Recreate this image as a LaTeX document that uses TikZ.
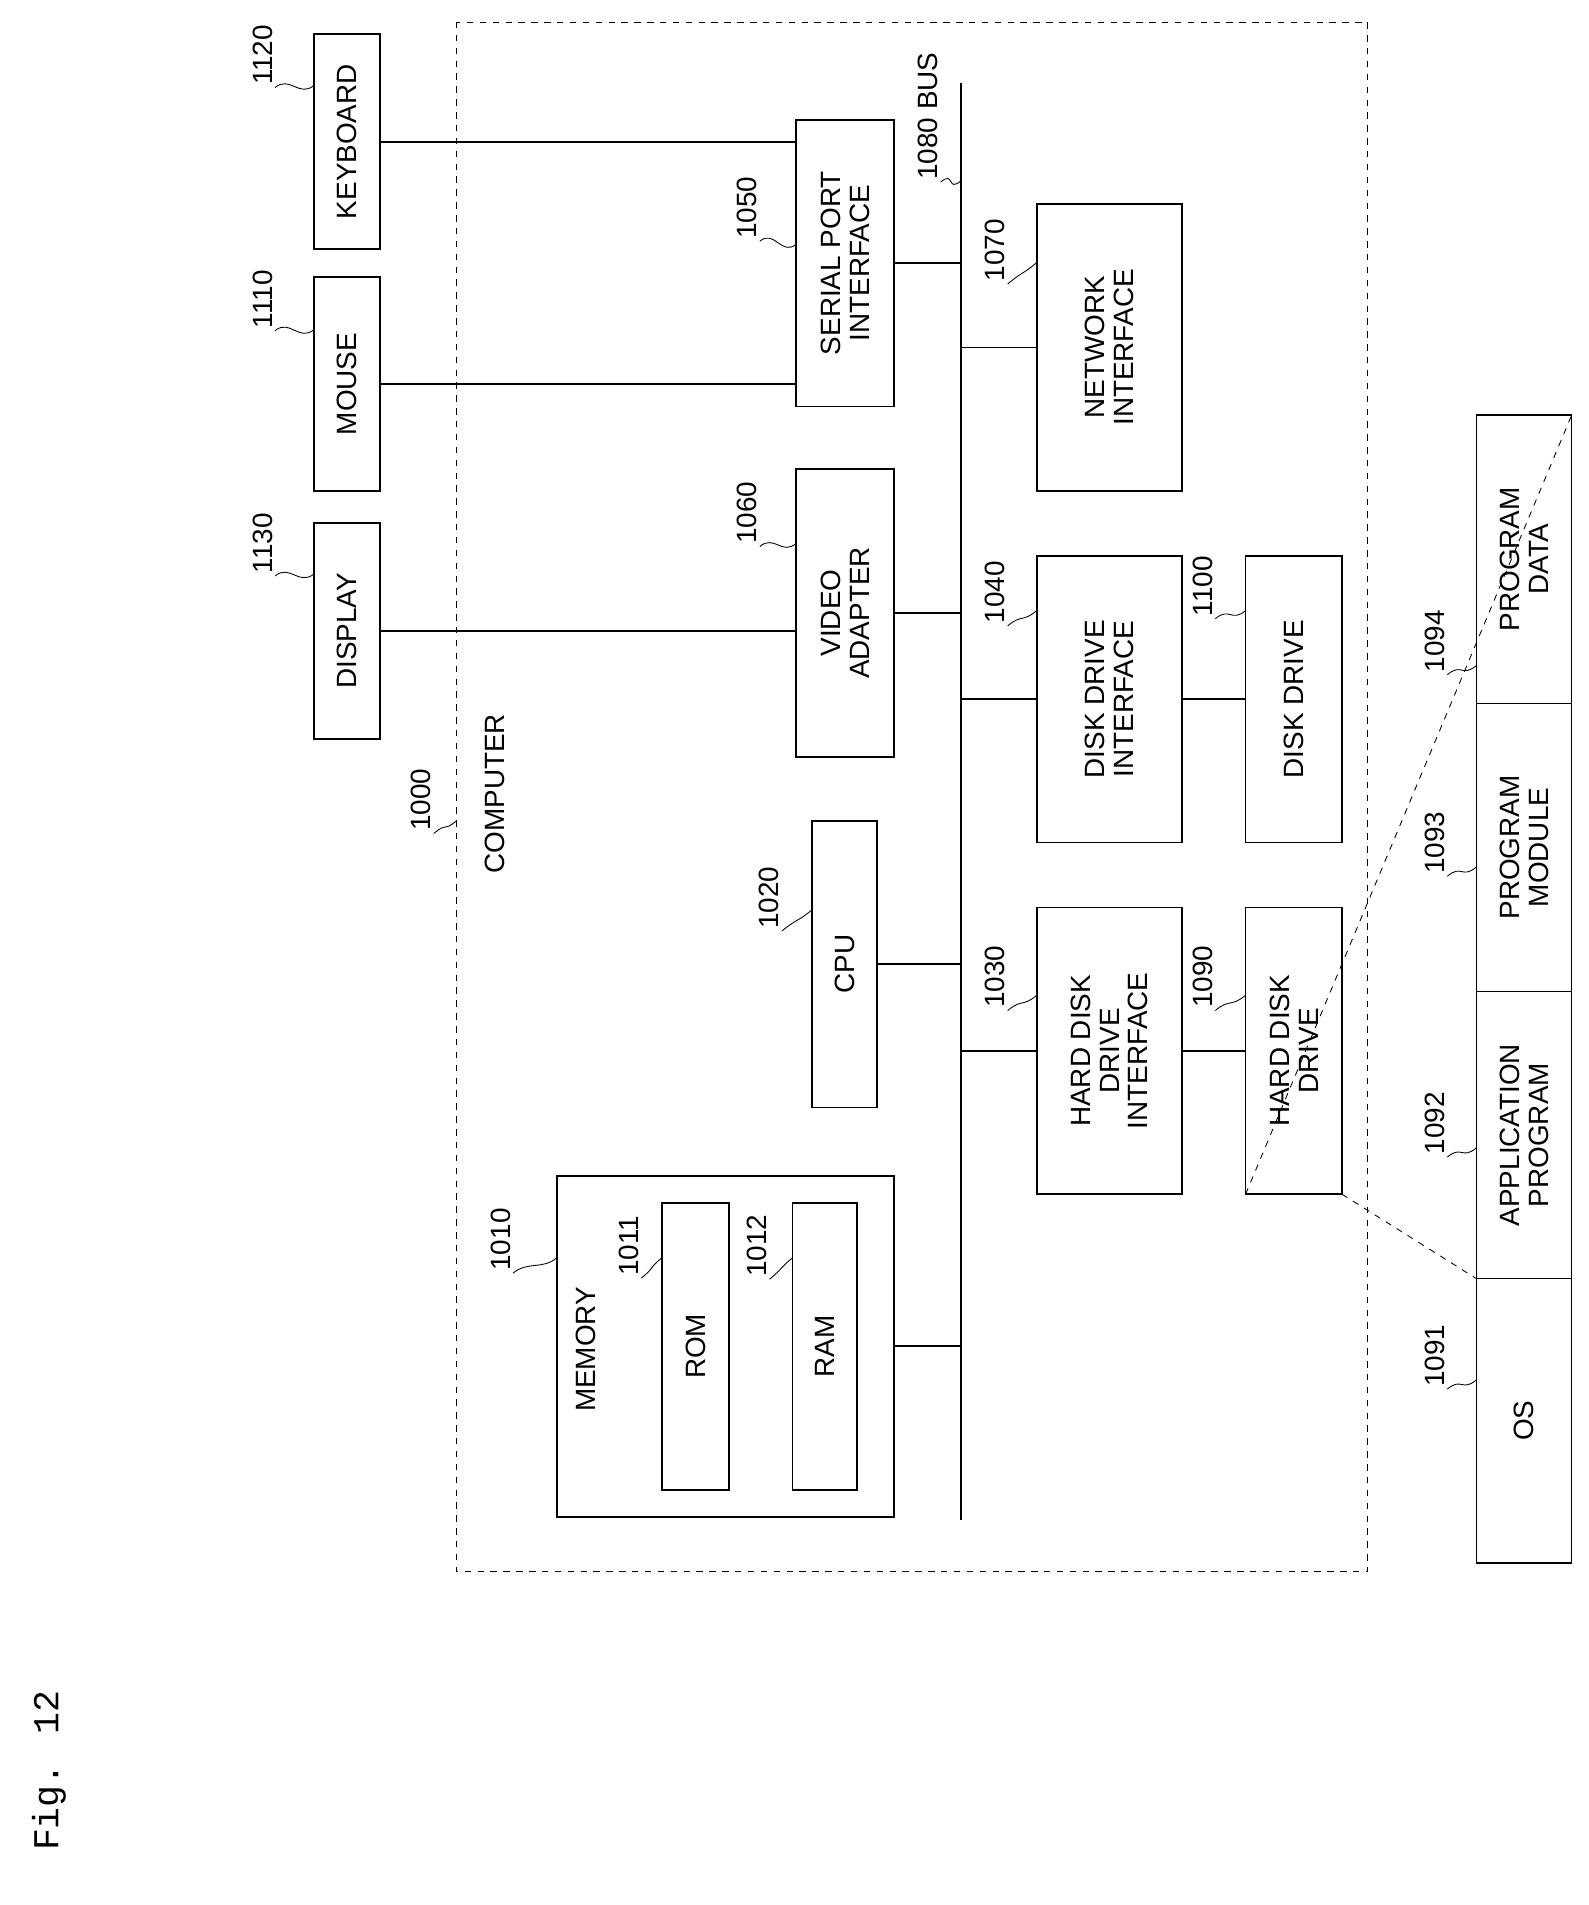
\documentclass[tikz,border=0pt]{standalone}
\usepackage{fontspec}
\setmainfont{Liberation Sans}
\newfontfamily\figfont{Liberation Mono}
\usetikzlibrary{positioning}

\tikzset{
  box/.style={draw,thick,rotate=90,inner sep=0pt,outer sep=0pt,align=center,
    font=\fontsize{13}{13.5}\selectfont},
  lbl/.style={rotate=90,inner sep=1pt,font=\fontsize{13}{14}\selectfont},
  sq/.style={thin},
  link/.style={thick}
}

\begin{document}
\begin{tikzpicture}[x=0.02cm,y=-0.02cm]
\useasboundingbox (0,0) rectangle (1301,1560);

% computer frame and bus
\draw[dashed] (374,18) rectangle (1120,1287);
\coordinate (busT) at (787,68);
\coordinate (busB) at (787,1245);
\draw[link] (busT) -- (busB);

% peripherals
\node[box,minimum width=3.52cm,minimum height=1.08cm] (kbd) at (284,116) {KEYBOARD};
\node[box,minimum width=3.5cm,minimum height=1.08cm] (mouse) at (284,314.5) {MOUSE};
\node[box,minimum width=3.54cm,minimum height=1.08cm] (disp) at (284,516.5) {DISPLAY};

% computer parts
\node[box,minimum width=4.7cm,minimum height=1.6cm] (serial) at (692,215.5) {SERIAL PORT\\INTERFACE};
\node[box,minimum width=4.72cm,minimum height=1.6cm] (video) at (692,502) {VIDEO\\ADAPTER};
\node[box,minimum width=4.7cm,minimum height=1.06cm] (cpu) at (691.5,789.5) {CPU};
\node[box,minimum width=5.58cm,minimum height=5.52cm] (mem) at (594,1102.5) {};
\node[lbl,font=\fontsize{13}{14}\selectfont] (memtxt) at (480,1105) {MEMORY};
\node[box,minimum width=4.7cm,minimum height=1.1cm] (rom) at (569.5,1102.5) {ROM};
\node[box,minimum width=4.7cm,minimum height=1.06cm] (ram) at (675.5,1102.5) {RAM};
\node[box,minimum width=4.7cm,minimum height=2.38cm] (net) at (908.5,284.5) {NETWORK\\INTERFACE};
\node[box,minimum width=4.7cm,minimum height=2.38cm] (ddi) at (908.5,572.5) {DISK DRIVE\\INTERFACE};
\node[box,minimum width=4.7cm,minimum height=1.58cm] (dd) at (1059.5,572.5) {DISK DRIVE};
\node[box,minimum width=4.7cm,minimum height=2.38cm] (hddi) at (908.5,860.5) {HARD DISK\\DRIVE\\INTERFACE};
\node[box,minimum width=4.7cm,minimum height=1.58cm] (hdd) at (1059.5,860.5) {HARD DISK\\DRIVE};

% contents of the hard disk drive
\node[box,minimum width=4.66cm,minimum height=1.56cm] (os) at (1248,1163.5) {OS};
\node[box,minimum width=4.7cm,minimum height=1.56cm] (app) at (1248,929.5) {APPLICATION\\PROGRAM};
\node[box,minimum width=4.72cm,minimum height=1.56cm] (mod) at (1248,694) {PROGRAM\\MODULE};
\node[box,minimum width=4.72cm,minimum height=1.56cm] (data) at (1248,458) {PROGRAM\\DATA};
\draw[dashed] (hdd.north west) -- (data.south east);
\draw[dashed] (hdd.south west) -- (os.north east);

% connections
\draw[link] (kbd.south) -- (kbd.south -| serial.north);
\draw[link] (mouse.south) -- (mouse.south -| serial.north);
\draw[link] (disp.south) -- (disp.south -| video.north);
\draw[link] (serial.south) -- (serial.south -| busT);
\draw[link] (video.south) -- (video.south -| busT);
\draw[link] (cpu.south) -- (cpu.south -| busT);
\draw[link] (mem.south) -- (mem.south -| busT);
\draw[link] (net.north -| busT) -- (net.north);
\draw[link] (ddi.north -| busT) -- (ddi.north);
\draw[link] (hddi.north -| busT) -- (hddi.north);
\draw[link] (ddi.south) -- (dd.north);
\draw[link] (hddi.south) -- (hdd.north);

% reference numerals
\node[lbl] (l1120) at (215,45) {1120};
\node[lbl] (l1110) at (215,245) {1110};
\node[lbl] (l1130) at (215,445) {1130};
\node[lbl] (l1050) at (612,170) {1050};
\node[lbl] (l1060) at (612,420) {1060};
\node[lbl] (l1020) at (630,735) {1020};
\node[lbl] (l1010) at (410,1015) {1010};
\node[lbl] (l1011) at (515,1020) {1011};
\node[lbl] (l1012) at (620,1020) {1012};
\node[lbl] (l1070) at (815,205) {1070};
\node[lbl] (l1040) at (815,485) {1040};
\node[lbl] (l1100) at (985,480) {1100};
\node[lbl] (l1030) at (815,800) {1030};
\node[lbl] (l1090) at (985,800) {1090};
\node[lbl] (l1091) at (1175,1110) {1091};
\node[lbl] (l1092) at (1175,920) {1092};
\node[lbl] (l1093) at (1175,690) {1093};
\node[lbl] (l1094) at (1175,525) {1094};
\node[lbl] (l1000) at (345,655) {1000};
\node[lbl] (l1080) at (760,95) {1080 BUS};
\node[lbl] (comp) at (405,650) {COMPUTER};

\coordinate (t1120) at (257,70);
\coordinate (t1110) at (257,270);
\coordinate (t1130) at (257,470);
\coordinate (t1050) at (652,200);
\coordinate (t1060) at (652,445);
\coordinate (t1020) at (665,745);
\coordinate (t1010) at (456,1030);
\coordinate (t1011) at (542,1030);
\coordinate (t1012) at (649,1030);
\coordinate (t1070) at (849,215);
\coordinate (t1040) at (849,500);
\coordinate (t1100) at (1020,500);
\coordinate (t1030) at (849,815);
\coordinate (t1090) at (1020,815);
\coordinate (t1091) at (1209,1130);
\coordinate (t1092) at (1209,940);
\coordinate (t1093) at (1209,710);
\coordinate (t1094) at (1209,545);
\coordinate (t1000) at (374,672);
\coordinate (t1080) at (787,148);

\foreach \n in {1120,1110,1130,1050,1060,1020,1010,1011,1012,1070,1040,1100,
                1030,1090,1091,1092,1093,1094,1000,1080}
  \draw[sq] (l\n.south west) .. controls +(12,-10) and +(-12,10) .. (t\n);

\node[rotate=90,font=\figfont\fontsize{17}{18}\selectfont] (fig) at (40,1450) {Fig. 12};
\end{tikzpicture}
\end{document}
